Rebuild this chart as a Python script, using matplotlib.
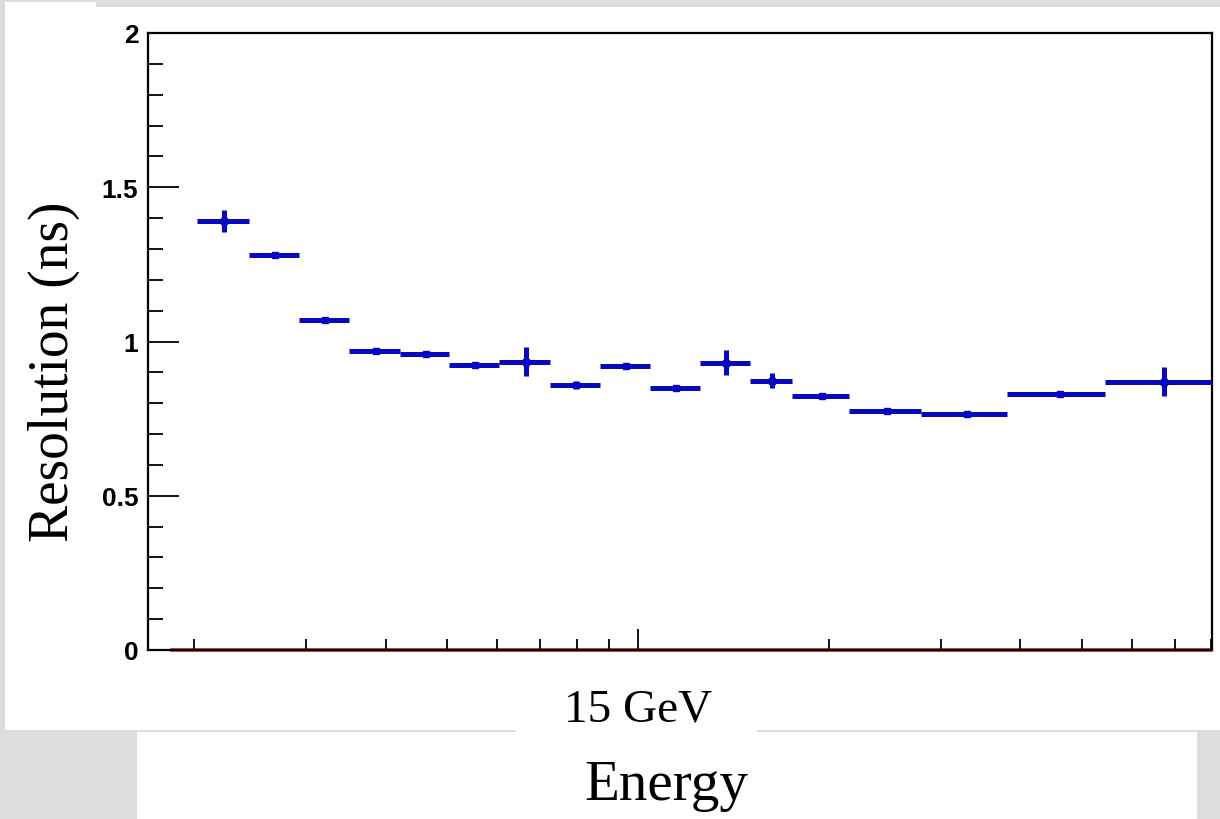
import matplotlib
matplotlib.use("Agg")
import matplotlib.pyplot as plt
from matplotlib.patches import Rectangle
from matplotlib.ticker import NullFormatter

# bin edges (energy, log axis) and fitted time resolution per bin
edges = [2.02, 2.44, 2.92, 3.51, 4.22, 5.04, 6.04, 7.27, 8.71, 10.45,
         12.5, 15.0, 17.5, 21.5, 27.9, 38.1, 54.4, 80.2]
resolution = [1.391, 1.280, 1.071, 0.968, 0.961, 0.925, 0.935, 0.859, 0.921,
              0.850, 0.931, 0.873, 0.823, 0.774, 0.764, 0.829, 0.870]
errors = [0.035, 0.008, 0.005, 0.008, 0.008, 0.010, 0.046, 0.012, 0.010,
          0.008, 0.040, 0.025, 0.010, 0.008, 0.008, 0.008, 0.046]

major_x = [10]
major_x_labels = ["15 GeV"]
minor_x = [2, 3, 4, 5, 6, 7, 8, 9, 20, 30, 40, 50, 60, 70, 80]
y_major = [0, 0.5, 1, 1.5, 2]
y_labels = ["0", "0.5", "1", "1.5", "2"]

blue = "#0808c0"
gray = "#dcdcdc"

fig = plt.figure(figsize=(12.2, 8.2), dpi=100)
fig.patch.set_facecolor(gray)
W, H = 1220, 820

def px_rect(x0, y0, x1, y1, color="white"):
    fig.patches.append(Rectangle((x0 / W, 1 - y1 / H), (x1 - x0) / W, (y1 - y0) / H,
                                 transform=fig.transFigure, facecolor=color,
                                 edgecolor="none", zorder=-10))

# white panels over the gray page
px_rect(5, 8, 1220, 731)
px_rect(5, 3, 96, 10)
px_rect(137, 733, 1197, 820)
px_rect(516, 728, 757, 736)

ax = fig.add_axes([148 / W, 1 - 651 / H, (1212 - 148) / W, (651 - 34) / H])
ax.set_facecolor("white")

ax.set_xscale("log")
ax.set_xlim(1.69, edges[-1])
ax.set_ylim(0, 2)

# zero line (red) under the frame
ax.hlines(0, 1.83, edges[-1], color="#d02020", lw=2.6, zorder=1, clip_on=False)

lo = edges[:-1]
hi = edges[1:]
centers = [(a + b) / 2 for a, b in zip(lo, hi)]
ax.hlines(resolution, lo, hi, color=blue, lw=3.6, zorder=3)
ax.vlines(centers, [r - e for r, e in zip(resolution, errors)],
          [r + e for r, e in zip(resolution, errors)], color=blue, lw=3.6, zorder=3)
ax.plot(centers, resolution, "s", color=blue, ms=4, zorder=4)

# ticks
ax.set_xticks(major_x)
ax.set_xticklabels(major_x_labels, fontfamily="Liberation Serif", fontsize=34)
ax.set_xticks(minor_x, minor=True)
ax.xaxis.set_minor_formatter(NullFormatter())
ax.tick_params(axis="x", which="major", direction="in", length=15, width=1.3, pad=27)
ax.tick_params(axis="x", which="minor", direction="in", length=8, width=1.3)

ax.set_yticks(y_major)
ax.set_yticklabels(y_labels, fontfamily="Liberation Sans", fontweight="bold", fontsize=19)
ax.set_yticks([v / 10 for v in range(0, 21)], minor=True)
ax.tick_params(axis="y", which="major", direction="in", length=22, width=1.3, pad=7)
ax.tick_params(axis="y", which="minor", direction="in", length=11, width=1.3)
ax.tick_params(top=False, right=False, which="both")

for s in ax.spines.values():
    s.set_linewidth(1.6)
    s.set_zorder(2.5)

fig.text(54 / W, 1 - 372 / H, "Resolution (ns)", rotation=90, ha="center", va="center",
         fontfamily="Liberation Serif", fontsize=40)
fig.text(666 / W, 1 - 800 / H, "Energy", ha="center", va="baseline",
         fontfamily="Liberation Serif", fontsize=41)

fig.savefig("out.png", dpi=100, facecolor=fig.get_facecolor())
